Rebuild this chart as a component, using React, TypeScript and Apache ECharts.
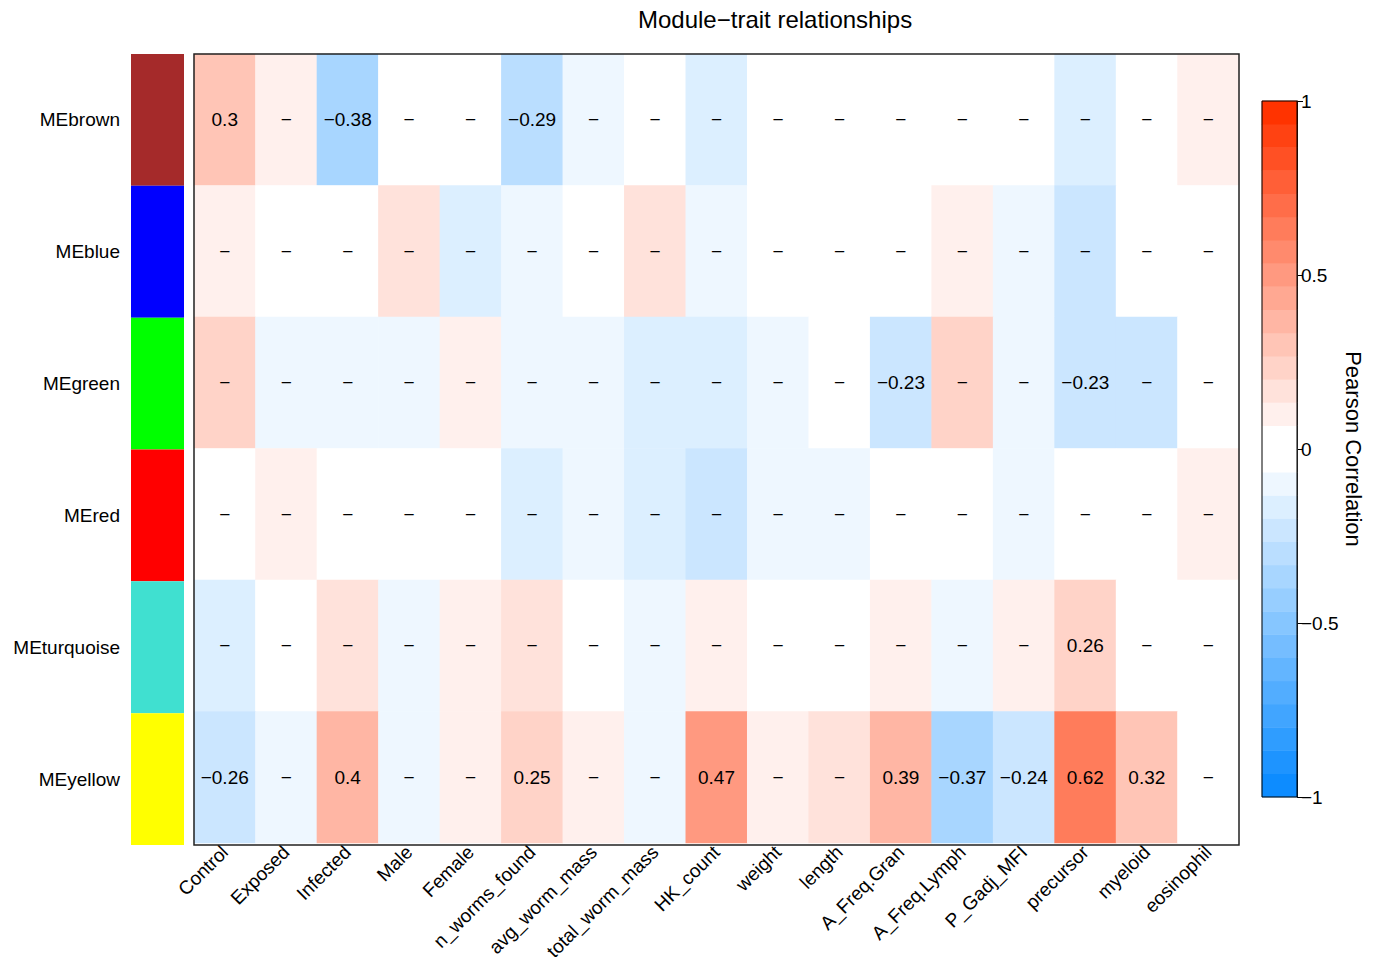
import React, { useEffect, useRef } from "react";
import * as echarts from "echarts";

const modules = ["MEbrown", "MEblue", "MEgreen", "MEred", "MEturquoise", "MEyellow"];
const moduleColors = ["#A52A2A", "#0000FF", "#00FF00", "#FF0000", "#40E0D0", "#FFFF00"];
const traits = [
  "Control", "Exposed", "Infected", "Male", "Female", "n_worms_found", "avg_worm_mass",
  "total_worm_mass", "HK_count", "weight", "length", "A_Freq.Gran", "A_Freq.Lymph",
  "P_Gadj_MFI", "precursor", "myeloid", "eosinophil",
];

// correlations per module (order of traits)
const corBrown = [0.3, 0.09, -0.38, 0.02, -0.03, -0.29, -0.1, 0.01, -0.16, 0.03, 0.0, -0.02, 0.04, -0.05, -0.15, 0.02, 0.1];
const corBlue = [0.1, 0.03, -0.01, 0.16, -0.17, -0.1, 0.05, 0.15, -0.09, 0.02, -0.04, 0.0, 0.12, -0.08, -0.21, -0.02, 0.01];
const corGreen = [0.22, -0.1, -0.09, -0.11, 0.1, -0.08, -0.12, -0.14, -0.15, -0.1, 0.03, -0.23, 0.21, -0.1, -0.23, -0.22, 0.02];
const corRed = [0.04, 0.09, 0.02, -0.01, 0.05, -0.15, -0.11, -0.16, -0.21, -0.1, -0.09, 0.03, 0.0, -0.08, 0.04, -0.02, 0.1];
const corTurquoise = [-0.15, 0.01, 0.16, -0.08, 0.1, 0.15, -0.03, -0.09, 0.11, 0.04, 0.02, 0.1, -0.1, 0.12, 0.26, 0.0, -0.03];
const corYellow = [-0.26, -0.1, 0.396, -0.09, 0.1, 0.25, 0.09, -0.1, 0.472, 0.1, 0.15, 0.39, -0.37, -0.24, 0.62, 0.32, 0.02];

// traits whose correlation is printed (significant)
const sigBrown = ["Control", "Infected", "n_worms_found"];
const sigBlue: string[] = [];
const sigGreen = ["A_Freq.Gran", "precursor"];
const sigRed: string[] = [];
const sigTurquoise = ["precursor"];
const sigYellow = ["Control", "Infected", "n_worms_found", "HK_count", "A_Freq.Gran", "A_Freq.Lymph", "P_Gadj_MFI", "precursor", "myeloid"];

const corRows = [corBrown, corBlue, corGreen, corRed, corTurquoise, corYellow];
const sigRows = [sigBrown, sigBlue, sigGreen, sigRed, sigTurquoise, sigYellow];

const FONT = "'Liberation Sans', Arial, Helvetica, sans-serif";
const NBINS = 30;
const HALF = 15;
const blueEnd = [0.05 * 255, 0.55 * 255, 255];
const redEnd = [255, 0.2 * 255, 0];

function binColor(i: number): string {
  let end: number[];
  let j: number;
  if (i >= HALF) {
    end = redEnd;
    j = i - HALF;
  } else {
    end = blueEnd;
    j = HALF - 1 - i;
  }
  const f = j / (HALF - 1);
  const c = end.map((e) => Math.round(255 + (e - 255) * f));
  return `rgb(${c[0]},${c[1]},${c[2]})`;
}

const fmt = (v: number) => String(Math.round(v * 100) / 100).replace("-", "\u2212");

export default function App() {
  const ref = useRef<HTMLDivElement>(null);
  useEffect(() => {
    if (!ref.current) return;
    const chart = echarts.init(ref.current, undefined, { renderer: "svg" });

    const pieces: any[] = [];
    for (let i = 0; i < NBINS; i++) {
      const lo = -1 + (i * 2) / NBINS;
      const hi = -1 + ((i + 1) * 2) / NBINS;
      const p: any = { gte: lo, color: binColor(i) };
      if (i === NBINS - 1) p.lte = 1;
      else p.lt = hi;
      pieces.push(p);
    }

    const heatData: any[] = [];
    corRows.forEach((row, r) => {
      row.forEach((v, c) => {
        const label = sigRows[r].includes(traits[c]) ? fmt(v) : "\u2212";
        heatData.push([c, r, v, label]);
      });
    });

    const barData: any[] = [];
    const binNames: string[] = [];
    for (let i = 0; i < NBINS; i++) {
      binNames.push(String(i));
      barData.push([0, i, -1 + ((i + 0.5) * 2) / NBINS]);
    }

    const main = { left: 194, top: 54, width: 1045, height: 791 };
    const cbar = { left: 1262, top: 101, width: 35, height: 696 };

    chart.setOption({
      animation: false,
      backgroundColor: "#fff",
      textStyle: { fontFamily: FONT },
      title: {
        text: "Module\u2212trait relationships",
        left: 633,
        top: 2,
        textStyle: { fontSize: 24, fontWeight: "normal", color: "#000", fontFamily: FONT },
      },
      grid: [
        { left: 131, top: 54, width: 53, height: 791 },
        main,
        cbar,
      ],
      visualMap: {
        type: "piecewise",
        show: false,
        seriesIndex: [1, 2],
        dimension: 2,
        pieces,
      },
      xAxis: [
        { gridIndex: 0, type: "value", min: 0, max: 1, show: false },
        {
          gridIndex: 1,
          type: "category",
          data: traits,
          axisLine: { show: false },
          axisTick: { show: false },
          axisLabel: { interval: 0, rotate: 45, fontSize: 19, color: "#000", margin: 6, fontFamily: FONT },
          splitLine: { show: false },
        },
        { gridIndex: 2, type: "category", data: [""], show: false },
      ],
      yAxis: [
        {
          gridIndex: 0,
          type: "category",
          data: modules,
          inverse: true,
          axisLine: { show: false },
          axisTick: { show: false },
          axisLabel: { fontSize: 19, color: "#000", margin: 11, fontFamily: FONT },
        },
        { gridIndex: 1, type: "category", data: modules, inverse: true, show: false },
        { gridIndex: 2, type: "category", data: binNames, show: false },
        {
          gridIndex: 2,
          type: "value",
          min: -1,
          max: 1,
          interval: 0.5,
          position: "right",
          axisLine: { show: true, lineStyle: { color: "#000", width: 1 } },
          axisTick: { show: true, length: 6, lineStyle: { color: "#000" } },
          axisLabel: {
            fontSize: 19,
            color: "#000",
            margin: 4,
            fontFamily: FONT,
            formatter: (v: number) => String(v).replace("-", "\u2212"),
          },
          splitLine: { show: false },
          name: "Pearson Correlation",
          nameLocation: "middle",
          nameRotate: -90,
          nameGap: 40,
          nameTextStyle: { fontSize: 22, color: "#000", fontFamily: FONT },
        },
      ],
      series: [
        {
          type: "bar",
          xAxisIndex: 0,
          yAxisIndex: 0,
          barWidth: "100%",
          data: moduleColors.map((c) => ({ value: 1, itemStyle: { color: c } })),
          silent: true,
        },
        {
          type: "heatmap",
          xAxisIndex: 1,
          yAxisIndex: 1,
          data: heatData,
          label: {
            show: true,
            fontSize: 19,
            color: "#000",
            fontFamily: FONT,
            formatter: (p: any) => p.data[3],
          },
          itemStyle: { borderWidth: 0 },
          emphasis: { disabled: true },
        },
        {
          type: "heatmap",
          xAxisIndex: 2,
          yAxisIndex: 2,
          data: barData,
          label: { show: false },
          emphasis: { disabled: true },
        },
      ],
      graphic: [
        {
          type: "rect",
          z: 100,
          silent: true,
          shape: { x: main.left, y: main.top, width: main.width, height: main.height },
          style: { fill: "none", stroke: "#222", lineWidth: 1.5 },
        },
        {
          type: "rect",
          z: 100,
          silent: true,
          shape: { x: cbar.left, y: cbar.top, width: cbar.width, height: cbar.height },
          style: { fill: "none", stroke: "#000", lineWidth: 1 },
        },
      ],
    });
    return () => chart.dispose();
  }, []);

  return (
    <div
      ref={ref}
      style={{ position: "fixed", left: 0, top: 0, width: 1373, height: 963, background: "#fff" }}
    />
  );
}
